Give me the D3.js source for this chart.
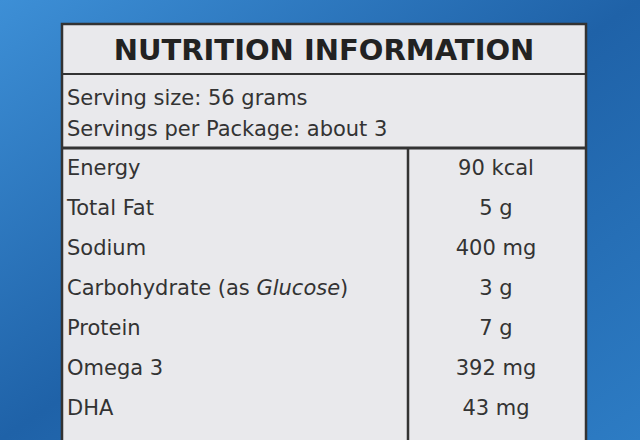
<!DOCTYPE html>
<html><head><meta charset="utf-8">
<script src="https://cdn.jsdelivr.net/npm/d3@7"></script>
<style>body{margin:0;background:#2a6fb0}</style>
</head><body>
<svg id="svg" width="640" height="440"></svg>
<script>
// label contents
const title = 'NUTRITION INFORMATION';
const servingLines = ['Serving size: 56 grams', 'Servings per Package: about 3'];
const nutrients = ['Energy', 'Total Fat', 'Sodium', 'Carbohydrate (as |Glucose|)', 'Protein', 'Omega 3', 'DHA'];
const amounts = ['90 kcal', '5 g', '400 mg', '3 g', '7 g', '392 mg', '43 mg'];

const svg = d3.select('#svg');
const defs = svg.append('defs');
const grad = defs.append('linearGradient').attr('id', 'bg').attr('x1', 0).attr('x2', 1).attr('y1', 0).attr('y2', 1);
grad.append('stop').attr('offset', 0).attr('stop-color', '#3d8fd6');
grad.append('stop').attr('offset', 0.5).attr('stop-color', '#1f62a8');
grad.append('stop').attr('offset', 1).attr('stop-color', '#2d7cc4');
svg.append('rect').attr('width', 640).attr('height', 440).attr('fill', 'url(#bg)');

const left = 62, right = 586, divider = 408;
const font = '"DejaVu Sans", sans-serif';

svg.append('rect').attr('x', left).attr('y', 24).attr('width', right - left).attr('height', 430)
  .attr('fill', '#e9e9ec').attr('stroke', '#333').attr('stroke-width', 2.5);

svg.append('text').attr('x', (left + right) / 2).attr('y', 60).attr('text-anchor', 'middle')
  .attr('font-family', font).attr('font-size', 29).attr('font-weight', 'bold').attr('fill', '#222').text(title);

svg.append('line').attr('x1', left).attr('x2', right).attr('y1', 74).attr('y2', 74).attr('stroke', '#333').attr('stroke-width', 2);

svg.selectAll('text.serv').data(servingLines).join('text').attr('class', 'serv')
  .attr('x', left + 5).attr('y', (d, i) => 105 + i * 31)
  .attr('font-family', font).attr('font-size', 21).attr('fill', '#333').text(d => d);

svg.append('line').attr('x1', left).attr('x2', right).attr('y1', 148).attr('y2', 148).attr('stroke', '#333').attr('stroke-width', 3);
svg.append('line').attr('x1', divider).attr('x2', divider).attr('y1', 148).attr('y2', 440).attr('stroke', '#333').attr('stroke-width', 2.5);

const y = d3.scaleBand().domain(nutrients).range([148, 428]);

const rows = svg.selectAll('g.row').data(nutrients).join('g').attr('class', 'row')
  .attr('transform', d => `translate(0,${y(d) + y.bandwidth() / 2 + 7})`);

rows.append('text').attr('x', left + 5).attr('font-family', font).attr('font-size', 21).attr('fill', '#333')
  .each(function (d) {
    const t = d3.select(this);
    d.split('|').forEach((part, i) => {
      t.append('tspan').attr('font-style', i === 1 ? 'italic' : 'normal').text(part);
    });
  });

rows.append('text').attr('x', 496).attr('text-anchor', 'middle').attr('font-family', font).attr('font-size', 21)
  .attr('fill', '#333').text((d, i) => amounts[i]);
</script>
</body></html>
